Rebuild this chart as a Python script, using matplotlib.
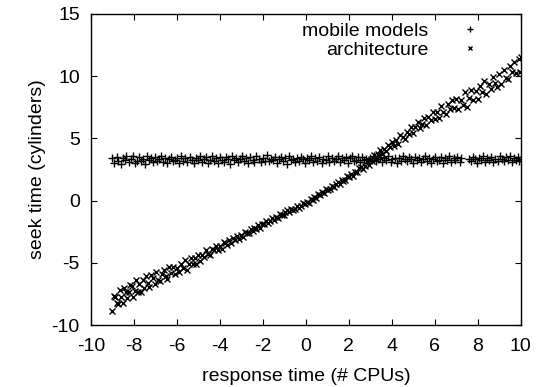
import matplotlib
matplotlib.use("Agg")
import matplotlib.pyplot as plt

plt.rcParams['font.family'] = ['Liberation Sans', 'DejaVu Sans']
plt.rcParams['axes.unicode_minus'] = False

# mobile models: flat band around 3.3
mobile_x = [-9.00, -8.91, -8.80, -8.72, -8.62, -8.53, -8.43, -8.35, -8.24, -8.15,
            -8.06, -7.96, -7.87, -7.77, -7.68, -7.58, -7.49, -7.40, -7.30, -7.21,
            -7.11, -7.02, -6.92, -6.83, -6.73, -6.64, -6.55, -6.45, -6.36, -6.26,
            -6.17, -6.07, -5.98, -5.88, -5.79, -5.70, -5.60, -5.51, -5.41, -5.32,
            -5.22, -5.13, -5.03, -4.94, -4.85, -4.75, -4.66, -4.56, -4.47, -4.37,
            -4.28, -4.18, -4.09, -4.00, -3.90, -3.81, -3.71, -3.62, -3.52, -3.43,
            -3.33, -3.24, -3.15, -3.05, -2.96, -2.86, -2.77, -2.67, -2.58, -2.48,
            -2.39, -2.30, -2.20, -2.11, -2.01, -1.92, -1.82, -1.73, -1.63, -1.54,
            -1.45, -1.35, -1.26, -1.16, -1.07, -0.97, -0.88, -0.78, -0.69, -0.60,
            -0.50, -0.41, -0.31, -0.22, -0.12, -0.03, 0.07, 0.16, 0.25, 0.35,
            0.44, 0.54, 0.63, 0.73, 0.82, 0.92, 1.01, 1.10, 1.20, 1.29,
            1.39, 1.48, 1.58, 1.67, 1.77, 1.86, 1.95, 2.05, 2.14, 2.24,
            2.33, 2.43, 2.52, 2.62, 2.71, 2.80, 2.90, 2.99, 3.09, 3.18,
            3.28, 3.37, 3.47, 3.56, 3.65, 3.75, 3.84, 3.94, 4.03, 4.13,
            4.22, 4.32, 4.41, 4.50, 4.60, 4.69, 4.79, 4.88, 4.98, 5.07,
            5.17, 5.26, 5.35, 5.45, 5.54, 5.64, 5.73, 5.83, 5.92, 6.02,
            6.11, 6.20, 6.30, 6.39, 6.49, 6.58, 6.68, 6.77, 6.87, 6.96,
            7.05, 7.15, 7.24, 7.60, 7.69, 7.79, 7.88, 7.97, 8.07, 8.16,
            8.26, 8.35, 8.45, 8.54, 8.63, 8.73, 8.82, 8.92, 9.01, 9.11,
            9.20, 9.30, 9.39, 9.48, 9.58, 9.67, 9.77, 9.86, 9.94, 10.00]
mobile_y = [3.45, 3.05, 3.52, 3.18, 2.98, 3.40, 3.28, 3.60, 3.10, 3.35,
            3.55, 3.02, 3.22, 3.48, 3.15, 3.38, 2.96, 3.58, 3.25, 3.42,
            3.08, 3.50, 3.20, 3.32, 3.62, 3.12, 3.44, 3.00, 3.36, 3.54,
            3.16, 3.27, 3.46, 3.04, 3.58, 3.21, 3.39, 3.11, 3.51, 3.30,
            2.99, 3.43, 3.24, 3.57, 3.14, 3.34, 3.49, 3.06, 3.26, 3.61,
            3.19, 3.41, 3.03, 3.53, 3.29, 3.13, 3.47, 3.37, 2.97, 3.56,
            3.23, 3.45, 3.09, 3.33, 3.59, 3.17, 3.40, 3.01, 3.50, 3.28,
            3.12, 3.55, 3.35, 3.07, 3.44, 3.21, 3.63, 3.15, 3.38, 3.26,
            3.52, 3.04, 3.31, 3.48, 3.18, 3.42, 2.98, 3.58, 3.24, 3.36,
            3.10, 3.46, 3.20, 3.54, 3.32, 3.06, 3.40, 3.27, 3.60, 3.14,
            3.43, 3.22, 3.51, 3.02, 3.37, 3.29, 3.56, 3.11, 3.45, 3.19,
            3.34, 3.62, 3.08, 3.41, 3.25, 3.49, 3.00, 3.39, 3.57, 3.16,
            3.30, 3.47, 3.12, 3.53, 3.23, 3.38, 3.05, 3.44, 3.28, 3.59,
            3.18, 3.35, 3.50, 3.09, 3.42, 3.26, 3.55, 3.13, 3.33, 3.46,
            3.03, 3.40, 3.21, 3.58, 3.31, 3.15, 3.48, 3.36, 2.99, 3.52,
            3.24, 3.43, 3.10, 3.37, 3.61, 3.17, 3.45, 3.06, 3.34, 3.54,
            3.20, 3.29, 3.47, 3.01, 3.41, 3.27, 3.57, 3.14, 3.39, 3.23,
            3.50, 3.08, 3.44, 3.32, 3.18, 3.53, 3.36, 3.04, 3.46, 3.25,
            3.60, 3.12, 3.40, 3.29, 3.51, 3.07, 3.38, 3.22, 3.55, 3.33,
            3.15, 3.47, 3.26, 3.58, 3.10, 3.42, 3.30, 3.49, 3.19, 3.36]

# architecture: rising band, wider at both ends
arch_x = [-9.00, -8.93, -8.86, -8.79, -8.72, -8.65, -8.58, -8.51, -8.44, -8.37,
          -8.30, -8.23, -8.16, -8.09, -8.02, -7.95, -7.88, -7.81, -7.74, -7.67,
          -7.60, -7.52, -7.44, -7.36, -7.28, -7.20, -7.12, -7.04, -6.96, -6.88,
          -6.80, -6.71, -6.62, -6.53, -6.44, -6.35, -6.26, -6.17, -6.08, -5.99,
          -5.90, -5.81, -5.72, -5.63, -5.54, -5.45, -5.36, -5.27, -5.18, -5.09,
          -5.00, -4.91, -4.82, -4.73, -4.64, -4.55, -4.46, -4.37, -4.28, -4.19,
          -4.10, -4.01, -3.92, -3.83, -3.74, -3.65, -3.56, -3.47, -3.38, -3.29,
          -3.20, -3.11, -3.02, -2.93, -2.84, -2.75, -2.66, -2.57, -2.48, -2.39,
          -2.30, -2.21, -2.12, -2.03, -1.94, -1.85, -1.76, -1.67, -1.58, -1.49,
          -1.40, -1.31, -1.22, -1.13, -1.04, -0.95, -0.86, -0.77, -0.68, -0.59,
          -0.50, -0.41, -0.32, -0.23, -0.14, -0.05, 0.04, 0.13, 0.22, 0.31,
          0.40, 0.49, 0.58, 0.67, 0.76, 0.85, 0.94, 1.03, 1.12, 1.21,
          1.30, 1.39, 1.48, 1.57, 1.66, 1.75, 1.84, 1.93, 2.02, 2.11,
          2.20, 2.29, 2.38, 2.47, 2.56, 2.65, 2.74, 2.83, 2.92, 3.01,
          3.10, 3.19, 3.28, 3.37, 3.46, 3.55, 3.64, 3.73, 3.82, 3.91,
          4.00, 4.10, 4.20, 4.30, 4.40, 4.50, 4.60, 4.70, 4.80, 4.90,
          5.00, 5.10, 5.20, 5.30, 5.40, 5.50, 5.60, 5.70, 5.80, 5.90,
          6.00, 6.10, 6.20, 6.30, 6.40, 6.50, 6.60, 6.70, 6.80, 6.90,
          7.00, 7.10, 7.20, 7.30, 7.40, 7.50, 7.60, 7.70, 7.80, 7.90,
          8.00, 8.10, 8.20, 8.30, 8.40, 8.50, 8.60, 8.70, 8.80, 8.90,
          9.00, 9.10, 9.20, 9.30, 9.40, 9.50, 9.60, 9.70, 9.80, 9.90,
          9.95, 10.00]
arch_y = [-8.85, -7.63, -7.76, -8.24, -8.32, -7.15, -7.78, -8.21, -6.99, -7.32,
          -7.85, -7.33, -6.76, -6.89, -7.72, -7.26, -6.35, -7.35, -6.69, -7.34,
          -6.38, -7.02, -6.05, -6.64, -6.97, -6.01, -6.25, -6.68, -5.77, -6.36,
          -6.49, -5.88, -5.57, -6.07, -6.31, -5.30, -5.78, -5.37, -5.91, -5.44,
          -5.76, -5.13, -5.40, -4.77, -5.54, -5.10, -4.62, -5.09, -4.61, -5.08,
          -4.40, -4.82, -4.39, -4.56, -3.98, -4.30, -4.36, -3.88, -4.00, -3.62,
          -3.99, -3.61, -3.88, -3.35, -3.42, -3.54, -3.15, -3.42, -3.04, -3.16,
          -2.88, -3.05, -2.77, -2.94, -2.51, -2.63, -2.64, -2.31, -2.43, -2.20,
          -2.27, -1.99, -2.16, -1.88, -1.90, -1.62, -1.78, -1.65, -1.42, -1.54,
          -1.31, -1.38, -1.10, -1.17, -1.14, -0.91, -0.79, -0.92, -0.69, -0.72,
          -0.65, -0.43, -0.56, -0.43, -0.21, -0.29, -0.11, -0.16, 0.14, 0.09,
          0.29, 0.24, 0.54, 0.49, 0.69, 0.64, 0.94, 0.88, 0.92, 1.21,
          1.10, 1.34, 1.48, 1.32, 1.66, 1.60, 1.64, 1.98, 1.87, 2.13,
          1.99, 2.30, 2.26, 2.61, 2.67, 2.55, 2.78, 3.16, 2.89, 3.31,
          3.18, 3.65, 3.31, 3.73, 4.05, 3.71, 4.13, 4.00, 4.47, 4.33,
          4.75, 4.42, 4.84, 4.56, 5.28, 5.15, 4.97, 5.54, 5.36, 5.88,
          5.40, 5.92, 6.29, 5.81, 6.13, 6.60, 6.07, 6.74, 6.51, 7.13,
          6.55, 7.14, 6.63, 7.57, 7.16, 6.95, 7.79, 7.33, 8.07, 7.41,
          8.20, 7.39, 8.08, 7.72, 8.71, 7.55, 8.24, 8.88, 8.07, 8.81,
          8.20, 9.21, 8.72, 9.58, 8.54, 9.35, 8.96, 9.97, 9.43, 9.14,
          10.15, 9.36, 10.52, 9.83, 9.74, 10.80, 10.36, 11.17, 10.28, 11.34,
          10.30, 11.55]

fig = plt.figure(figsize=(5.38, 3.87), dpi=100)
ax = fig.add_axes([0.169, 0.160, 0.799, 0.804])

ax.plot(mobile_x, mobile_y, linestyle='none', marker='+', color='black',
        markersize=6, markeredgewidth=1.0, label='mobile models')
ax.plot(arch_x, arch_y, linestyle='none', marker='x', color='black',
        markersize=5, markeredgewidth=1.0, label='architecture')

ax.set_xlim(-10, 10)
ax.set_ylim(-10, 15)
ax.set_xticks(range(-10, 11, 2))
ax.set_yticks(range(-10, 16, 5))
ax.tick_params(direction='in', top=True, right=True, length=4, width=0.8,
               labelsize=14, colors='black')
ax.tick_params(axis='x', pad=9)
ax.tick_params(axis='y', pad=8)
for s in ax.spines.values():
    s.set_linewidth(1.0)

ax.set_xlabel('response time (# CPUs)', fontsize=14, labelpad=10)
ax.set_ylabel('seek time (cylinders)', fontsize=14)

ax.legend(loc='upper right', bbox_to_anchor=(0.916, 0.972), frameon=False,
          markerfirst=False, fontsize=14, handletextpad=1.4, labelspacing=0.05,
          borderaxespad=0, borderpad=0, handlelength=1.5, markerscale=0.7)

fig.savefig('out.png', dpi=100)
